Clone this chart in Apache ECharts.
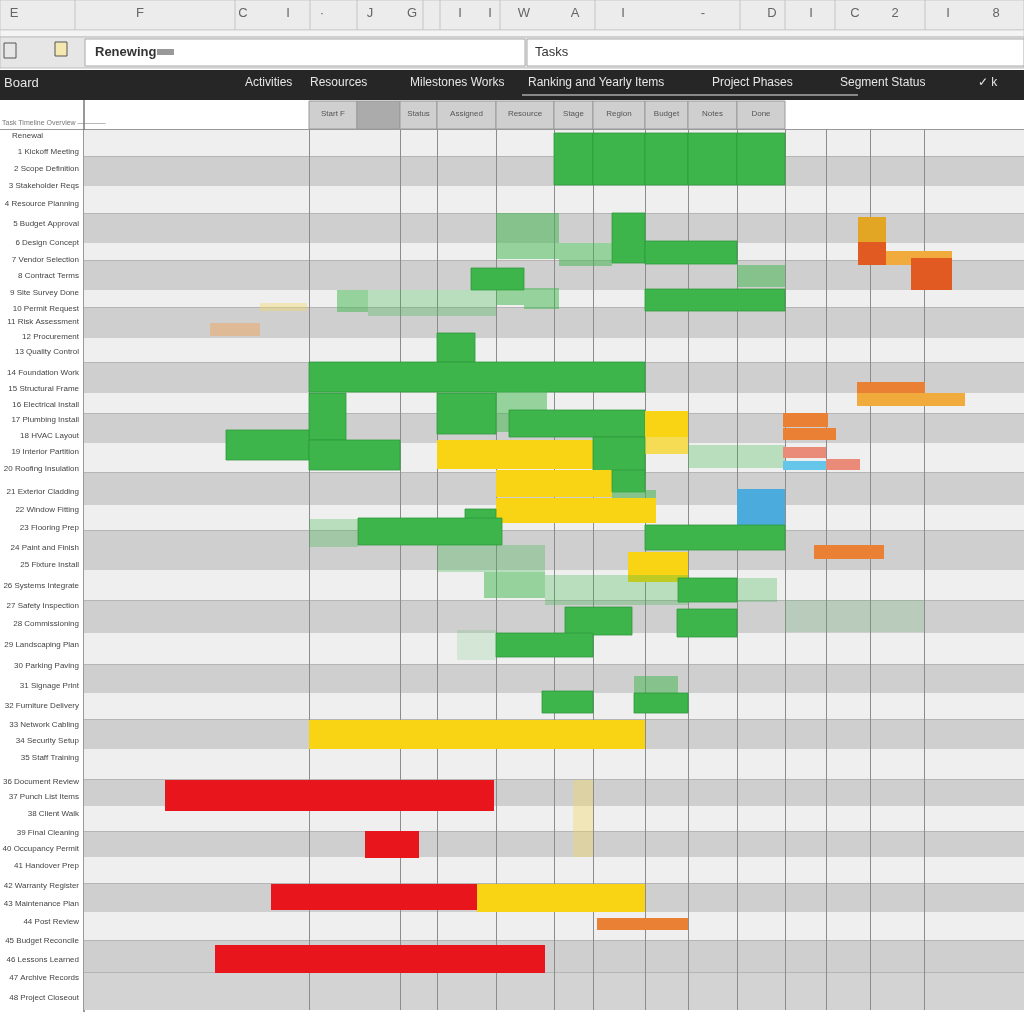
<!DOCTYPE html>
<html><head><meta charset="utf-8">
<script src="https://cdn.jsdelivr.net/npm/echarts@6/dist/echarts.min.js"></script>
<style>html,body{margin:0;padding:0;background:#fff;}#c{width:1024px;height:1024px;}</style>
</head><body><div id="c"></div>
<script>
// ---- data ----
const taskLabels = ["Renewal","1 Kickoff Meeting","2 Scope Definition","3 Stakeholder Reqs","4 Resource Planning","5 Budget Approval","6 Design Concept","7 Vendor Selection","8 Contract Terms","9 Site Survey Done","10 Permit Request","11 Risk Assessment","12 Procurement","13 Quality Control","14 Foundation Work","15 Structural Frame","16 Electrical Install","17 Plumbing Install","18 HVAC Layout","19 Interior Partition","20 Roofing Insulation","21 Exterior Cladding","22 Window Fitting","23 Flooring Prep","24 Paint and Finish","25 Fixture Install","26 Systems Integrate","27 Safety Inspection","28 Commissioning","29 Landscaping Plan","30 Parking Paving","31 Signage Print","32 Furniture Delivery","33 Network Cabling","34 Security Setup","35 Staff Training","36 Document Review","37 Punch List Items","38 Client Walk","39 Final Cleaning","40 Occupancy Permit","41 Handover Prep","42 Warranty Register","43 Maintenance Plan","44 Post Review","45 Budget Reconcile","46 Lessons Learned","47 Archive Records","48 Project Closeout"];
const taskRows = [0.6,2.2,3.9,5.6,7.4,9.4,11.3,13,14.6,16.3,17.9,19.2,20.7,22.2,24.3,25.9,27.5,29,30.6,32.2,33.9,36.2,38,39.8,41.8,43.5,45.6,47.6,49.4,51.5,53.6,55.6,57.6,59.5,61.1,62.8,65.2,66.7,68.4,70.3,71.9,73.6,75.6,77.4,79.2,81.1,83,84.8,86.8];
// week boundaries (column dividers)
const weekLines = [22.5,31.6,35.3,41.2,47,50.9,56.1,60.4,65.3,70.1,74.2,78.6,84];
// shaded row bands [start,end]
const rowBands = [[2.6,5.6],[8.3,11.3],[13,16],[17.7,20.8],[23.2,26.3],[28.3,31.3],[34.2,37.5],[40,44],[47,50.3],[53.4,56.3],[58.9,61.9],[64.9,67.6],[70.1,72.7],[75.3,78.2],[81,84.2],[84.2,88]];
// task bars [start,end,rowTop,rowBottom,colourKey]
const taskBars = [
 [47,50.9,0.3,5.5,'G'],[50.9,56.1,0.3,5.5,'G'],[56.1,60.4,0.3,5.5,'G'],[60.4,65.3,0.3,5.5,'G'],[65.3,70.1,0.3,5.5,'G'],
 [41.2,47.5,8.3,12.9,'PG'],[52.8,56.1,8.3,13.3,'G'],[47.5,52.8,11.3,13.6,'PG'],[56.1,65.3,11.1,13.4,'G'],
 [77.4,80.2,8.7,11.2,'GOLD'],[77.4,80.2,11.2,13.5,'RO'],[80.2,86.8,12.1,13.5,'OY'],[82.7,86.8,12.8,16,'RO'],
 [65.3,70.1,13.5,15.7,'PG'],[38.7,44,13.8,16,'G'],[41.2,44,16,17.5,'PG'],[44,47.5,15.8,17.9,'PG'],
 [25.3,28.4,16,18.2,'PG'],[28.4,41.2,16,18.6,'PGL'],[17.6,22.3,17.3,18.1,'PY'],[56.1,70.1,15.9,18.1,'G'],
 [12.6,17.6,19.3,20.6,'PO'],[35.3,39.1,20.3,23.2,'G'],[22.5,56.1,23.2,26.2,'G'],
 [77.3,84.1,25.2,26.3,'O'],[77.3,88.1,26.3,27.6,'OY'],
 [22.5,26.2,26.3,31,'G'],[35.3,41.2,26.3,30.4,'G'],[41.2,46.3,26,30.2,'PG'],[42.5,56.1,28,30.7,'G'],
 [56.1,60.4,28.1,30.7,'Y'],[56.1,60.4,30.7,32.4,'YL'],[14.2,22.5,30,33,'G'],[22.5,31.6,31,34,'G'],
 [35.3,50.9,31,33.9,'Y'],[50.9,56.1,30.7,34.5,'G'],[69.9,74.4,28.3,29.7,'O'],[69.9,75.2,29.8,31,'O'],
 [60.4,70.1,31.5,33.8,'PGL'],[69.9,74.2,31.7,32.8,'SAL'],[69.9,74.2,33.1,34,'LB'],[74.2,77.6,32.9,34,'SAL'],
 [41.2,52.8,34,36.7,'Y'],[52.8,56.1,34,36.2,'G'],[52.8,57.2,36,37,'PG'],[41.2,57.2,36.8,39.3,'Y'],
 [65.3,70.1,35.9,39.6,'B'],[38.1,41.2,37.9,39.2,'G'],[22.5,27.4,38.9,41.7,'PGL'],[27.4,41.8,38.8,41.5,'G'],
 [56.1,70.1,39.5,42,'G'],[73,80,41.5,42.9,'O'],[35.3,46.1,41.5,44.2,'PGL'],[54.4,60.4,42.2,45.2,'Y'],
 [40,46.1,44.2,46.8,'PG'],[46.1,60.4,44.5,47.5,'PGL'],[59.4,65.3,44.8,47.2,'G'],[65.3,69.3,44.8,47.2,'PGL'],
 [48.1,54.8,47.7,50.5,'G'],[59.3,65.3,47.9,50.7,'G'],[70.1,84,47,50.2,'PGV'],
 [41.2,50.9,50.3,52.7,'G'],[37.3,41.2,50,53,'PGV'],[55,59.4,54.6,56.3,'PG'],[55,60.4,56.3,58.3,'G'],
 [45.8,50.9,56.1,58.3,'G'],[22.5,56.1,59,61.9,'Y'],[8.1,41,65,68.1,'R'],[48.9,50.9,65,72.7,'PY'],
 [28.1,33.5,70.1,72.8,'R'],[18.7,39.3,75.4,78,'R'],[39.3,56.1,75.4,78.2,'Y'],[51.3,60.4,78.8,80,'O'],
 [13.1,46.1,81.5,84.3,'R']
];
const palette = {G:'#3db54a',PG:'rgba(61,181,74,0.5)',PGL:'rgba(61,181,74,0.3)',PGV:'rgba(61,181,74,0.15)',
 Y:'#f8d414',YL:'#f6dc55',R:'#e8161c',O:'#ea8034',OY:'#f1aa3c',GOLD:'#e3a524',RO:'#e05a22',
 SAL:'#e98b78',LB:'#66c6ea',B:'#4aabdc',PY:'rgba(246,214,80,0.35)',PO:'rgba(240,160,80,0.45)'};
const headerCells = [[309,357,'Start F'],[357,400,''],[400,437,'Status'],[437,496,'Assigned'],[496,554,'Resource'],[554,593,'Stage'],[593,645,'Region'],[645,688,'Budget'],[688,737,'Notes'],[737,785,'Done']];
const menuItems = [[245,'Activities'],[310,'Resources'],[410,'Milestones Works'],[528,'Ranking and Yearly Items'],[712,'Project Phases'],[840,'Segment Status'],[978,'✓ k']];
const colLetters = [[14,'E'],[140,'F'],[243,'C'],[288,'I'],[322,'·'],[370,'J'],[412,'G'],[460,'I'],[490,'I'],[524,'W'],[575,'A'],[623,'I'],[703,'-'],[772,'D'],[811,'I'],[855,'C'],[895,'2'],[948,'I'],[996,'8']];
const colSeps = [75,235,310,357,423,440,500,595,740,785,835,925];

// ---- chart ----
const chart = echarts.init(document.getElementById('c'));
const FONT = 'Liberation Sans';
const g = [];
// top column-letter strip
g.push({type:'rect',shape:{x:0,y:0,width:1024,height:30},style:{fill:'#ececec',stroke:'#c8c8c8'}});
colSeps.forEach(x=>g.push({type:'line',shape:{x1:x,y1:0,x2:x,y2:36},style:{stroke:'#c4c4c4',lineWidth:1}}));
colLetters.forEach(([x,t])=>g.push({type:'text',x:x,y:13,style:{text:t,font:'13px '+FONT,fill:'#666',align:'center',verticalAlign:'middle'}}));
g.push({type:'rect',shape:{x:0,y:30,width:1024,height:7},style:{fill:'#f4f4f4',stroke:'#cfcfcf'}});
// formula row
g.push({type:'rect',shape:{x:0,y:37,width:1024,height:31},style:{fill:'#e6e6e6',stroke:'#bdbdbd'}});
g.push({type:'rect',shape:{x:85,y:39,width:440,height:27},style:{fill:'#fff',stroke:'#aaa'}});
g.push({type:'rect',shape:{x:527,y:39,width:497,height:27},style:{fill:'#fff',stroke:'#aaa'}});
g.push({type:'rect',shape:{x:4,y:43,width:12,height:15},style:{fill:'none',stroke:'#555'}});
g.push({type:'rect',shape:{x:55,y:42,width:12,height:14},style:{fill:'#f3e9b0',stroke:'#555'}});
g.push({type:'text',x:95,y:52,style:{text:'Renewing',font:'bold 13px '+FONT,fill:'#333',verticalAlign:'middle'}});
g.push({type:'rect',shape:{x:157,y:49,width:17,height:6},style:{fill:'#999'}});
g.push({type:'text',x:535,y:52,style:{text:'Tasks',font:'13px '+FONT,fill:'#333',verticalAlign:'middle'}});
// dark menu bar
g.push({type:'rect',shape:{x:0,y:70,width:1024,height:30},style:{fill:'#262626'}});
g.push({type:'text',x:4,y:83,style:{text:'Board',font:'13px '+FONT,fill:'#e6e6e6',verticalAlign:'middle'}});
menuItems.forEach(([x,t])=>g.push({type:'text',x:x,y:83,style:{text:t,font:'12px '+FONT,fill:'#e6e6e6',verticalAlign:'middle'}}));
g.push({type:'line',shape:{x1:522,y1:95,x2:858,y2:95},style:{stroke:'#888',lineWidth:2}});
// header row
g.push({type:'rect',shape:{x:0,y:100,width:1024,height:30},style:{fill:'#fff'}});
g.push({type:'text',x:2,y:123,style:{text:'Task Timeline Overview ————',font:'7px '+FONT,fill:'#777',verticalAlign:'middle'}});
headerCells.forEach(([a,b,t],i)=>{
  g.push({type:'rect',shape:{x:a,y:101,width:b-a,height:28},style:{fill:i===1?'#ababab':'#cfcfcf',stroke:'#999'}});
  g.push({type:'text',x:(a+b)/2,y:114,style:{text:t,font:'8px '+FONT,fill:'#555',align:'center',verticalAlign:'middle'}});
});
g.push({type:'line',shape:{x1:0,y1:129.5,x2:1024,y2:129.5},style:{stroke:'#999'}});
g.push({type:'line',shape:{x1:84,y1:100,x2:84,y2:1012},style:{stroke:'#777',lineWidth:1.5}});

chart.setOption({
  animation:false,
  backgroundColor:'#ffffff',
  grid:{left:84,right:0,top:130,bottom:14},
  xAxis:{type:'value',min:0,max:94,show:false},
  yAxis:{type:'value',min:0,max:88,inverse:true,show:false},
  graphic:g,
  series:[
    {type:'custom',z:1,silent:true,data:[[0]],renderItem:(p,api)=>{
       const cs=p.coordSys; return {type:'rect',shape:{x:cs.x,y:cs.y,width:cs.width,height:cs.height},style:{fill:'#efefef'}};}},
    {type:'custom',z:2,silent:true,data:rowBands.map(b=>b),renderItem:(p,api)=>{
       const cs=p.coordSys; const y0=api.coord([0,api.value(0)])[1], y1=api.coord([0,api.value(1)])[1];
       return {type:'group',children:[
         {type:'rect',shape:{x:cs.x,y:y0,width:cs.width,height:y1-y0},style:{fill:p.dataIndex===rowBands.length-1?'#d3d3d3':'#cfcfcf'}},
         {type:'line',shape:{x1:cs.x,y1:y0+0.5,x2:cs.x+cs.width,y2:y0+0.5},style:{stroke:'#b5b5b5',lineWidth:1}}]};}},
    {type:'custom',z:3,silent:true,data:weekLines.map(v=>[v]),renderItem:(p,api)=>{
       const cs=p.coordSys; const x=Math.round(api.coord([api.value(0),0])[0])+0.5;
       return {type:'line',shape:{x1:x,y1:cs.y,x2:x,y2:cs.y+cs.height},style:{stroke:'#8c8c8c',lineWidth:1}};}},
    {type:'custom',z:4,silent:true,data:taskBars.map(b=>[b[0],b[1],b[2],b[3]]),renderItem:(p,api)=>{
       const a=api.coord([api.value(0),api.value(2)]), b=api.coord([api.value(1),api.value(3)]);
       const key=taskBars[p.dataIndex][4];
       return {type:'rect',shape:{x:a[0],y:a[1],width:b[0]-a[0],height:b[1]-a[1]},
         style:{fill:palette[key],stroke:key==='G'?'#2f9a3c':null,lineWidth:key==='G'?0.8:0}};}},
    {type:'custom',z:5,silent:true,clip:false,data:taskRows.map(v=>[0,v]),renderItem:(p,api)=>{
       const y=api.coord([0,api.value(1)])[1];
       return {type:'text',x:p.dataIndex===0?12:79,y:y,style:{text:taskLabels[p.dataIndex],font:'8px '+FONT,fill:'#444',
         align:p.dataIndex===0?'left':'right',verticalAlign:'middle'}};}}
  ]
});
</script></body></html>
